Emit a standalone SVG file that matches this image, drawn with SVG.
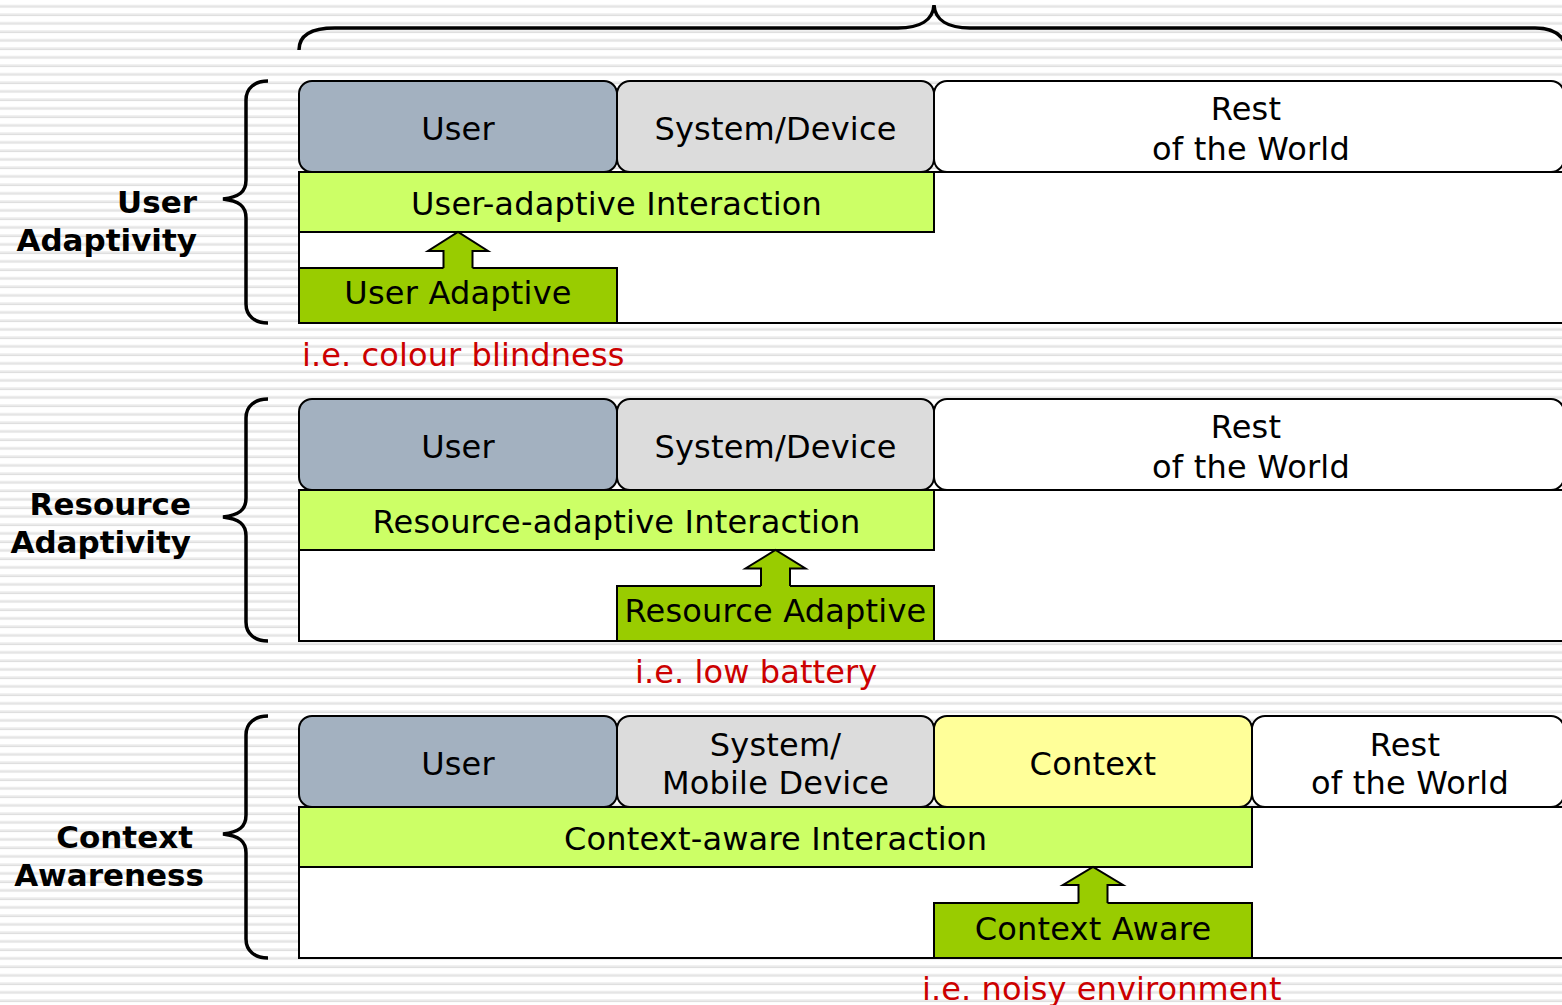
<svg xmlns="http://www.w3.org/2000/svg" width="1562" height="1005" viewBox="0 0 1562 1005">
  <defs>
    <pattern id="stripes" x="0" y="0" width="20" height="8.5" patternUnits="userSpaceOnUse">
      <rect x="0" y="0" width="20" height="8.5" fill="#ffffff"/>
      <rect x="0" y="4.8" width="20" height="1.3" fill="#ececec"/>
      <rect x="0" y="6.1" width="20" height="1.5" fill="#dedede"/>
    </pattern>
    <style>
      .tab { stroke: #000; stroke-width: 2; }
      .user { fill: #a3b1c0; }
      .sys { fill: #dcdcdc; }
      .ctx { fill: #ffff99; }
      .rest { fill: #ffffff; }
      .panel { fill: #ffffff; stroke: #000; stroke-width: 2; }
      .bar { fill: #ccff66; stroke: #000; stroke-width: 2; }
      .box { fill: #99cc00; stroke: #000; stroke-width: 2; }
      .arrow-fill { fill: #99cc00; stroke: none; }
      .arrow-line { fill: none; stroke: #000; stroke-width: 2; stroke-linejoin: miter; }
      .brace { fill: none; stroke: #000; stroke-width: 3.5; stroke-linecap: butt; }
      text { font-family: "DejaVu Sans", Verdana, sans-serif; }
      .t { font-size: 32px; fill: #000; text-anchor: middle; letter-spacing: 0.2px; }
      .lbl { font-size: 31px; font-weight: bold; fill: #000; text-anchor: end; }
      .note { font-size: 32px; fill: #cc0000; text-anchor: start; letter-spacing: 0.1px; }
    </style>
  </defs>

  <!-- striped backdrop -->
  <rect x="0" y="0" width="1562" height="1005" fill="url(#stripes)"/>

  <!-- braces -->
  <g id="braces">
    <path class="brace" d="M299,50 C299,36 310,28 335,28 L898,28 C920,28 933,20 934,5 C935,20 948,28 970,28 L1535,28 C1552,28 1562,34 1566,46"/>
    <path class="brace" d="M268,81 C255,81 246,88 246,100 L246,180 C246,192 239,197 223,199 C239,201 246,206 246,218 L246,304 C246,316 255,323 268,323"/>
    <path class="brace" d="M268,399 C255,399 246,406 246,418 L246,498 C246,510 239,515 223,517 C239,519 246,524 246,536 L246,622 C246,634 255,641 268,641"/>
    <path class="brace" d="M268,716 C255,716 246,723 246,735 L246,815 C246,827 239,832 223,834 C239,836 246,841 246,853 L246,939 C246,951 255,958 268,958"/>
  </g>

  <!-- row labels -->
  <g id="label-user-adaptivity">
    <text class="lbl" x="197" y="213">User</text>
    <text class="lbl" x="197" y="251">Adaptivity</text>
  </g>
  <g id="label-resource-adaptivity">
    <text class="lbl" x="191" y="515">Resource</text>
    <text class="lbl" x="191" y="553">Adaptivity</text>
  </g>
  <g id="label-context-awareness">
    <text class="lbl" x="193" y="848">Context</text>
    <text class="lbl" x="204" y="886">Awareness</text>
  </g>

  <!-- panel 1: user adaptivity -->
  <g id="panel1">
    <rect class="panel" x="299" y="172" width="1290" height="151"/>
  </g>
  <g id="p1-user">
    <rect class="tab user" x="299" y="81" width="318" height="91" rx="13"/>
    <text class="t" x="458" y="139.5">User</text>
  </g>
  <g id="p1-system">
    <rect class="tab sys" x="617" y="81" width="317" height="91" rx="13"/>
    <text class="t" x="775.5" y="139.5">System/Device</text>
  </g>
  <g id="p1-rest">
    <rect class="tab rest" x="934" y="81" width="630" height="91" rx="13"/>
    <text class="t" x="1246" y="120">Rest</text>
    <text class="t" x="1251" y="160">of the World</text>
  </g>
  <g id="p1-interaction">
    <rect class="bar" x="299" y="172" width="635" height="60"/>
    <text class="t" x="616.5" y="215">User-adaptive Interaction</text>
  </g>
  <g id="p1-adaptive">
    <rect class="box" x="299" y="268" width="318" height="55"/>
    <text class="t" x="458" y="304">User Adaptive</text>
  </g>
  <g id="p1-note">
    <text class="note" x="302" y="366">i.e. colour blindness</text>
  </g>

  <!-- panel 2: resource adaptivity -->
  <g id="panel2">
    <rect class="panel" x="299" y="490" width="1290" height="151"/>
  </g>
  <g id="p2-user">
    <rect class="tab user" x="299" y="399" width="318" height="91" rx="13"/>
    <text class="t" x="458" y="457.5">User</text>
  </g>
  <g id="p2-system">
    <rect class="tab sys" x="617" y="399" width="317" height="91" rx="13"/>
    <text class="t" x="775.5" y="457.5">System/Device</text>
  </g>
  <g id="p2-rest">
    <rect class="tab rest" x="934" y="399" width="630" height="91" rx="13"/>
    <text class="t" x="1246" y="438">Rest</text>
    <text class="t" x="1251" y="478">of the World</text>
  </g>
  <g id="p2-interaction">
    <rect class="bar" x="299" y="490" width="635" height="60"/>
    <text class="t" x="616.5" y="533">Resource-adaptive Interaction</text>
  </g>
  <g id="p2-adaptive">
    <rect class="box" x="617" y="586" width="317" height="55"/>
    <text class="t" x="775.5" y="622">Resource Adaptive</text>
  </g>
  <g id="p2-note">
    <text class="note" x="635" y="683">i.e. low battery</text>
  </g>

  <!-- panel 3: context awareness -->
  <g id="panel3">
    <rect class="panel" x="299" y="807" width="1290" height="151"/>
  </g>
  <g id="p3-user">
    <rect class="tab user" x="299" y="716" width="318" height="91" rx="13"/>
    <text class="t" x="458" y="775">User</text>
  </g>
  <g id="p3-system">
    <rect class="tab sys" x="617" y="716" width="317" height="91" rx="13"/>
    <text class="t" x="775.5" y="756">System/</text>
    <text class="t" x="775.5" y="794">Mobile Device</text>
  </g>
  <g id="p3-context">
    <rect class="tab ctx" x="934" y="716" width="318" height="91" rx="13"/>
    <text class="t" x="1093" y="775">Context</text>
  </g>
  <g id="p3-rest">
    <rect class="tab rest" x="1252" y="716" width="312" height="91" rx="13"/>
    <text class="t" x="1405" y="756">Rest</text>
    <text class="t" x="1410" y="794">of the World</text>
  </g>
  <g id="p3-interaction">
    <rect class="bar" x="299" y="807" width="953" height="60"/>
    <text class="t" x="775.5" y="850">Context-aware Interaction</text>
  </g>
  <g id="p3-aware">
    <rect class="box" x="934" y="903" width="318" height="55"/>
    <text class="t" x="1093" y="940">Context Aware</text>
  </g>
  <g id="p3-note">
    <text class="note" x="922" y="1000">i.e. noisy environment</text>
  </g>

  <!-- block arrows from each adaptation box up to its interaction bar -->
  <g id="connectors">
    <polygon class="arrow-fill" points="458,232 488,251 472.5,251 472.5,270 443.5,270 443.5,251 428,251"/>
    <polyline class="arrow-line" points="443.5,268 443.5,251 428,251 458,232 488,251 472.5,251 472.5,268"/>

    <polygon class="arrow-fill" points="775.5,550 805.5,568.5 790,568.5 790,588 761,588 761,568.5 745.5,568.5"/>
    <polyline class="arrow-line" points="761,586 761,568.5 745.5,568.5 775.5,550 805.5,568.5 790,568.5 790,586"/>

    <polygon class="arrow-fill" points="1093,867 1123,885 1107.5,885 1107.5,905 1078.5,905 1078.5,885 1063,885"/>
    <polyline class="arrow-line" points="1078.5,903 1078.5,885 1063,885 1093,867 1123,885 1107.5,885 1107.5,903"/>
  </g>
</svg>
